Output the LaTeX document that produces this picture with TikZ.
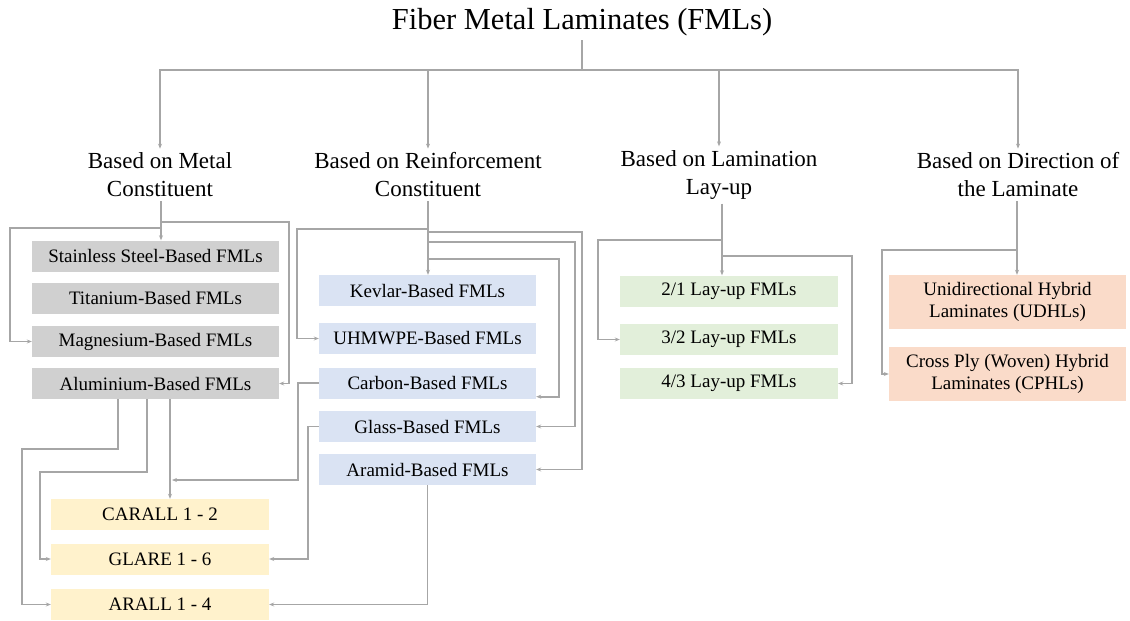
\documentclass[tikz,border=0pt]{standalone}
\usepackage{fontspec}
\setmainfont{Liberation Serif}
\usetikzlibrary{arrows.meta}
\definecolor{metal}{HTML}{D0D0D0}
\definecolor{reinf}{HTML}{DAE3F3}
\definecolor{lamin}{HTML}{E2EFDA}
\definecolor{direc}{HTML}{FADBC9}
\definecolor{hybrid}{HTML}{FFF2CC}
\definecolor{linef}{HTML}{A6A6A6}

\begin{document}
\begin{tikzpicture}[x=1pt,y=-1pt,
		box/.style={inner sep=0pt,minimum height=31pt,font=\fontsize{19}{22}\selectfont,align=center},
		cat/.style={inner sep=4pt,font=\fontsize{23}{28}\selectfont,align=center},
		link/.style={draw=linef,line width=1.7pt,-{Stealth[length=5pt,width=4pt]}},
		bare/.style={draw=linef,line width=1.7pt}]
		\useasboundingbox (0,0) rectangle (1130,621);
		%
		%title and classes
		\node[inner sep=4pt,font=\fontsize{30.5}{36}\selectfont] (T) at (582,22) {Fiber Metal Laminates (FMLs)};
		\coordinate (J) at (582,70);
		\node[cat] (C1) at (160,175) {Based on Metal\\Constituent};
		\node[cat] (C2) at (428,175) {Based on Reinforcement\\Constituent};
		\node[cat] (C3) at (719,175) {Based on Lamination\\Lay-up};
		\node[cat] (C4) at (1018,175) {Based on Direction of\\the Laminate};
		\draw[bare] (T.south) -- (J);
		\draw[link] (J) -| (C1.north);
		\draw[link] (J) -| (C2.north);
		\draw[link] (J) -| (C3.north);
		\draw[link] (J) -| (C4.north);
		%
		%metal
		\node[box,fill=metal,minimum width=247pt] (M1) at (155.5,256) {Stainless Steel-Based FMLs};
		\node[box,fill=metal,minimum width=247pt] (M2) at (155.5,298) {Titanium-Based FMLs};
		\node[box,fill=metal,minimum width=247pt] (M3) at (155.5,341.5) {Magnesium-Based FMLs};
		\node[box,fill=metal,minimum width=247pt] (M4) at (155.5,383.5) {Aluminium-Based FMLs};
		\coordinate (m1) at (161,228);
		\coordinate (m2) at (161,222);
		\draw[link] (C1.south -| m1) -- (M1.north -| m1);
		\draw[link] (m1) -- ++(-151,0) |- (M3.west);
		\draw[link] (m2) -- ++(128,0) |- (M4.east);
		%
		%reinforcement
		\node[box,fill=reinf,minimum width=217pt] (R1) at (427.5,290.5) {Kevlar-Based FMLs};
		\node[box,fill=reinf,minimum width=217pt] (R2) at (427.5,338.5) {UHMWPE-Based FMLs};
		\node[box,fill=reinf,minimum width=217pt] (R3) at (427.5,383) {Carbon-Based FMLs};
		\node[box,fill=reinf,minimum width=217pt] (R4) at (427.5,426.5) {Glass-Based FMLs};
		\node[box,fill=reinf,minimum width=217pt] (R5) at (427.5,469.5) {Aramid-Based FMLs};
		\coordinate (r1) at (428,229);
		\coordinate (r2) at (428,232);
		\coordinate (r3) at (428,242);
		\coordinate (r4) at (428,259);
		\draw[link] (C2.south -| r1) -- (R1.north -| r1);
		\draw[link] (r1) -- ++(-131,0) |- (R2.west);
		\draw[link] (r2) -- ++(154,0) |- (R5.east);
		\draw[link] (r3) -- ++(147,0) |- (R4.east);
		\draw[link] (r4) -- ++(131,0) |- ([yshift=2pt]R3.south east);
		%
		%lamination
		\node[box,fill=lamin,minimum width=218pt] (L1) at (729,291) {2/1 Lay-up FMLs};
		\node[box,fill=lamin,minimum width=218pt] (L2) at (729,339.5) {3/2 Lay-up FMLs};
		\node[box,fill=lamin,minimum width=218pt] (L3) at (729,383.5) {4/3 Lay-up FMLs};
		\coordinate (l1) at (722,240);
		\coordinate (l2) at (722,256);
		\draw[link] (C3.south -| l1) -- (L1.north -| l1);
		\draw[link] (l1) -- ++(-124,0) |- (L2.west);
		\draw[link] (l2) -- ++(130,0) |- (L3.east);
		%
		%direction
		\node[box,fill=direc,minimum width=237pt,minimum height=54pt] (D1) at (1007.5,302) {Unidirectional Hybrid\\Laminates (UDHLs)};
		\node[box,fill=direc,minimum width=237pt,minimum height=54pt] (D2) at (1007.5,374) {Cross Ply (Woven) Hybrid\\Laminates (CPHLs)};
		\coordinate (d1) at (1017,250);
		\draw[link] (C4.south -| d1) -- (D1.north -| d1);
		\draw[link] (d1) -- ++(-135,0) |- (D2.west);
		%
		%hybrid grades
		\node[box,fill=hybrid,minimum width=218pt] (H1) at (160,514.5) {CARALL 1 - 2};
		\node[box,fill=hybrid,minimum width=218pt] (H2) at (160,559) {GLARE 1 - 6};
		\node[box,fill=hybrid,minimum width=218pt] (H3) at (160,604.5) {ARALL 1 - 4};
		\coordinate (h1) at (172,480);
		\draw[link] ([xshift=-37.5pt]M4.south) |- (22,449) |- (H3.west);
		\draw[link] ([xshift=-8.5pt]M4.south) |- (40,472) |- (H2.west);
		\draw[link] ([xshift=14.5pt]M4.south) -- ([xshift=10pt]H1.north);
		\draw[link] (R3.west) -- ++(-21,0) |- (h1);
		\draw[link] (R4.west) -- ++(-11,0) |- (H2.east);
		\draw[link] (R5.south) |- (H3.east);
	\end{tikzpicture}
\end{document}
